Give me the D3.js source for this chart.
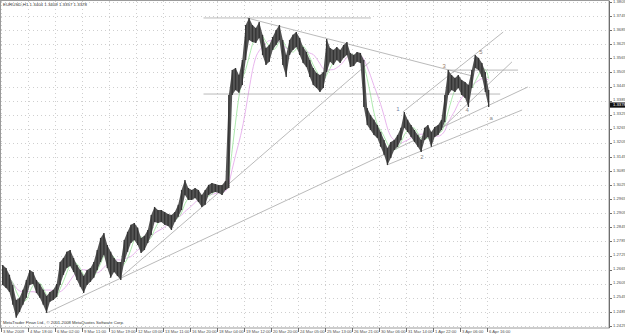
<!DOCTYPE html>
<html>
<head>
<meta charset="utf-8">
<script src="https://cdn.jsdelivr.net/npm/d3@7"></script>
<style>
  html, body { margin: 0; padding: 0; background: #fff; }
  text { font-family: "Liberation Sans", Arial, sans-serif; }
</style>
</head>
<body>
<svg id="canvas"></svg>
<script>
const width = 625;
const height = 335;

// 4-hour bars, EURUSD H1 chart
const highs = [
  1.2685, 1.2672, 1.2643, 1.2600, 1.2536, 1.2545, 1.2579, 1.2621, 1.2664, 1.2655,
  1.2621, 1.2604, 1.2579, 1.2553, 1.2570, 1.2579, 1.2604, 1.2698, 1.2715, 1.2741,
  1.2749, 1.2715, 1.2685, 1.2664, 1.2638, 1.2664, 1.2672, 1.2698, 1.2749, 1.2800,
  1.2821, 1.2770, 1.2741, 1.2715, 1.2698, 1.2698, 1.2791, 1.2826, 1.2856, 1.2864,
  1.2843, 1.2800, 1.2809, 1.2834, 1.2898, 1.2932, 1.2919, 1.2919, 1.2911, 1.2902,
  1.2898, 1.2911, 1.2941, 1.3004, 1.3047, 1.3013, 1.3004, 1.3013, 1.3004, 1.2983,
  1.3004, 1.3026, 1.3034, 1.3030, 1.3026, 1.3026, 1.3043, 1.3409, 1.3515, 1.3524,
  1.3494, 1.3558, 1.3707, 1.3737, 1.3707, 1.3694, 1.3720, 1.3665, 1.3609, 1.3622,
  1.3656, 1.3686, 1.3707, 1.3643, 1.3579, 1.3643, 1.3665, 1.3677, 1.3652, 1.3613,
  1.3592, 1.3558, 1.3524, 1.3503, 1.3494, 1.3507, 1.3647, 1.3609, 1.3601, 1.3613,
  1.3601, 1.3622, 1.3635, 1.3588, 1.3579, 1.3592, 1.3588, 1.3558, 1.3354, 1.3324,
  1.3303, 1.3281, 1.3251, 1.3217, 1.3183, 1.3209, 1.3217, 1.3239, 1.3269, 1.3337,
  1.3303, 1.3281, 1.3260, 1.3239, 1.3217, 1.3269, 1.3281, 1.3251, 1.3273, 1.3281,
  1.3303, 1.3409, 1.3515, 1.3494, 1.3481, 1.3494, 1.3473, 1.3464, 1.3452, 1.3515,
  1.3579, 1.3567, 1.3545, 1.3507, 1.3430
];
const lows = [
  1.2600, 1.2587, 1.2570, 1.2515, 1.2460, 1.2485, 1.2515, 1.2545, 1.2600, 1.2604,
  1.2566, 1.2545, 1.2515, 1.2481, 1.2528, 1.2536, 1.2549, 1.2600, 1.2643, 1.2672,
  1.2681, 1.2655, 1.2621, 1.2592, 1.2566, 1.2600, 1.2613, 1.2630, 1.2664, 1.2698,
  1.2728, 1.2672, 1.2630, 1.2655, 1.2638, 1.2621, 1.2698, 1.2741, 1.2779, 1.2791,
  1.2770, 1.2736, 1.2749, 1.2779, 1.2813, 1.2868, 1.2864, 1.2868, 1.2856, 1.2851,
  1.2834, 1.2868, 1.2890, 1.2919, 1.2983, 1.2962, 1.2962, 1.2970, 1.2953, 1.2932,
  1.2941, 1.2983, 1.2992, 1.2996, 1.2992, 1.2983, 1.3004, 1.3013, 1.3409, 1.3430,
  1.3418, 1.3452, 1.3558, 1.3643, 1.3635, 1.3630, 1.3652, 1.3579, 1.3537, 1.3550,
  1.3601, 1.3622, 1.3643, 1.3537, 1.3486, 1.3579, 1.3601, 1.3613, 1.3579, 1.3545,
  1.3528, 1.3486, 1.3452, 1.3439, 1.3422, 1.3439, 1.3507, 1.3550, 1.3537, 1.3558,
  1.3545, 1.3567, 1.3579, 1.3528, 1.3532, 1.3550, 1.3545, 1.3358, 1.3281, 1.3260,
  1.3239, 1.3226, 1.3188, 1.3154, 1.3111, 1.3141, 1.3175, 1.3188, 1.3217, 1.3269,
  1.3251, 1.3230, 1.3209, 1.3188, 1.3166, 1.3217, 1.3230, 1.3188, 1.3230, 1.3239,
  1.3260, 1.3294, 1.3409, 1.3430, 1.3422, 1.3439, 1.3409, 1.3396, 1.3358, 1.3439,
  1.3524, 1.3515, 1.3486, 1.3422, 1.3358
];

const priceTicks = [
  1.3805, 1.3745, 1.3685, 1.3625, 1.3565, 1.3505, 1.3445, 1.3385, 1.3325, 1.3265,
  1.3205, 1.3145, 1.3085, 1.3025, 1.2965, 1.2905, 1.2845, 1.2785, 1.2725, 1.2665,
  1.2605, 1.2545, 1.2485, 1.2425
];
const timeLabels = [
  "3 Mar 2009", "4 Mar 18:00", "6 Mar 02:00", "9 Mar 11:00", "10 Mar 19:00",
  "12 Mar 03:00", "13 Mar 11:00", "16 Mar 20:00", "18 Mar 04:00", "19 Mar 12:00",
  "20 Mar 20:00", "24 Mar 05:00", "25 Mar 13:00", "26 Mar 21:00", "30 Mar 06:00",
  "31 Mar 14:00", "1 Apr 22:00", "3 Apr 06:00", "6 Apr 16:00"
];
const barsPerLabel = 8;
const lastPrice = 1.3378;

// drawn objects: [bar, price] pairs
const trendLines = [
  [[60, 1.3737], [109.6, 1.3737]],
  [[60, 1.3413], [147.9, 1.3413]],
  [[132.4, 1.3515], [153.2, 1.3515]],
  [[72.9, 1.3737], [139.6, 1.3490]],
  [[13.6, 1.2481], [156.1, 1.3443]],
  [[35.3, 1.2630], [109.3, 1.3550]],
  [[114.4, 1.3111], [154.4, 1.3345]],
  [[119.1, 1.3337], [148.8, 1.3677]],
  [[130.1, 1.3260], [151.4, 1.3550]]
];
const waveLabels = [
  { bar: 117.6, price: 1.3349, text: "1", color: "#6f80a6" },
  { bar: 124.7, price: 1.3145, text: "2", color: "#8a8a8a" },
  { bar: 131.3, price: 1.3532, text: "3", color: "#a0806a" },
  { bar: 138.1, price: 1.3345, text: "4", color: "#8a8a8a" },
  { bar: 142.2, price: 1.3592, text: "5", color: "#907a70" },
  { bar: 145.2, price: 1.3307, text: "a", color: "#8a8a8a" }
];

const plotLeft = 1;
const plotRight = 609;
const plotTop = 1;
const plotBottom = 328;

const svg = d3.select("#canvas").attr("width", width).attr("height", height);

const xScale = d3
  .scaleLinear()
  .domain([0, barsPerLabel])
  .range([plotLeft, plotLeft + 27]);

const yScale = d3.scaleLinear().domain([1.2425, 1.3805]).range([326, 2]);

// grid
svg
  .append("g")
  .selectAll("line")
  .data(priceTicks)
  .enter()
  .append("line")
  .attr("x1", plotLeft)
  .attr("x2", plotRight)
  .attr("y1", (d) => Math.round(yScale(d)) + 0.5)
  .attr("y2", (d) => Math.round(yScale(d)) + 0.5)
  .attr("stroke", "#cfcfcf")
  .attr("stroke-dasharray", "1,3");

svg
  .append("g")
  .selectAll("line")
  .data(timeLabels)
  .enter()
  .append("line")
  .attr("x1", (d, i) => Math.round(xScale(i * barsPerLabel)) + 0.5)
  .attr("x2", (d, i) => Math.round(xScale(i * barsPerLabel)) + 0.5)
  .attr("y1", plotTop)
  .attr("y2", plotBottom)
  .attr("stroke", "#cfcfcf")
  .attr("stroke-dasharray", "1,3");

// frame
svg
  .append("rect")
  .attr("x", plotLeft - 0.5)
  .attr("y", plotTop - 0.5)
  .attr("width", plotRight - plotLeft + 0.5)
  .attr("height", plotBottom - plotTop + 0.5)
  .attr("fill", "none")
  .attr("stroke", "#9a9a9a");

svg
  .append("line")
  .attr("x1", plotRight + 0.5)
  .attr("x2", plotRight + 0.5)
  .attr("y1", plotTop)
  .attr("y2", plotBottom)
  .attr("stroke", "#6e6e6e");

const bars = highs.map((h, i) => ({ i, high: h, low: lows[i], mid: (h + lows[i]) / 2 }));

// moving averages of the bar midpoints
const movingAverage = (n) =>
  bars.map((b, i) => ({
    i,
    value: d3.mean(bars.slice(Math.max(0, i - n + 1), i + 1), (d) => d.mid)
  }));

const maLine = d3
  .line()
  .curve(d3.curveMonotoneX)
  .x((d) => xScale(d.i + 0.5))
  .y((d) => yScale(d.value));

svg
  .append("path")
  .datum(movingAverage(8))
  .attr("d", maLine)
  .attr("fill", "none")
  .attr("stroke", "#e2a2e8")
  .attr("stroke-width", 0.8);

svg
  .append("path")
  .datum(movingAverage(4))
  .attr("d", maLine)
  .attr("fill", "none")
  .attr("stroke", "#98e398")
  .attr("stroke-width", 0.8);

// trend lines
svg
  .append("g")
  .selectAll("line")
  .data(trendLines)
  .enter()
  .append("line")
  .attr("x1", (d) => xScale(d[0][0]))
  .attr("y1", (d) => yScale(d[0][1]))
  .attr("x2", (d) => xScale(d[1][0]))
  .attr("y2", (d) => yScale(d[1][1]))
  .attr("stroke", "#a8a8a8")
  .attr("stroke-width", 0.8);

// price bars
svg
  .append("path")
  .datum(bars)
  .attr(
    "d",
    d3
      .area()
      .x((d) => xScale(d.i + 0.5))
      .y0((d) => yScale(d.low))
      .y1((d) => yScale(d.high))
  )
  .attr("fill", "#555");

svg
  .append("g")
  .selectAll("line")
  .data(bars)
  .enter()
  .append("line")
  .attr("x1", (d) => xScale(d.i + 0.5))
  .attr("x2", (d) => xScale(d.i + 0.5))
  .attr("y1", (d) => yScale(d.high))
  .attr("y2", (d) => yScale(d.low))
  .attr("stroke", "#333")
  .attr("stroke-width", 1.3);

// wave labels
svg
  .append("g")
  .selectAll("text")
  .data(waveLabels)
  .enter()
  .append("text")
  .attr("x", (d) => xScale(d.bar))
  .attr("y", (d) => yScale(d.price))
  .attr("dominant-baseline", "middle")
  .attr("text-anchor", "middle")
  .attr("fill", (d) => d.color)
  .style("font-size", "6px")
  .text((d) => d.text);

// right price axis
const yAxis = svg.append("g");
yAxis
  .selectAll("line")
  .data(priceTicks)
  .enter()
  .append("line")
  .attr("x1", plotRight)
  .attr("x2", plotRight + 3)
  .attr("y1", (d) => Math.round(yScale(d)) + 0.5)
  .attr("y2", (d) => Math.round(yScale(d)) + 0.5)
  .attr("stroke", "#6e6e6e");
yAxis
  .selectAll("text")
  .data(priceTicks)
  .enter()
  .append("text")
  .attr("x", plotRight + 4)
  .attr("y", (d) => yScale(d) - 0.5)
  .attr("dominant-baseline", "middle")
  .attr("fill", "#505050")
  .style("font-size", "4.2px")
  .text((d) => d.toFixed(4));

// current price box
const lastY = yScale(lastPrice) + 2.8;
svg
  .append("rect")
  .attr("x", plotRight + 1)
  .attr("y", lastY - 2.6)
  .attr("width", width - plotRight - 1)
  .attr("height", 5.2)
  .attr("fill", "#111");
svg
  .append("text")
  .attr("x", plotRight + 4)
  .attr("y", lastY)
  .attr("dominant-baseline", "middle")
  .attr("fill", "#fff")
  .style("font-size", "4.2px")
  .text(lastPrice.toFixed(4));

// bottom time axis
const xAxis = svg.append("g");
xAxis
  .selectAll("line")
  .data(timeLabels)
  .enter()
  .append("line")
  .attr("x1", (d, i) => Math.round(xScale(i * barsPerLabel)) + 0.5)
  .attr("x2", (d, i) => Math.round(xScale(i * barsPerLabel)) + 0.5)
  .attr("y1", plotBottom)
  .attr("y2", plotBottom + 4)
  .attr("stroke", "#6e6e6e");
xAxis
  .selectAll("text")
  .data(timeLabels)
  .enter()
  .append("text")
  .attr("x", (d, i) => xScale(i * barsPerLabel) + 2)
  .attr("y", plotBottom + 4)
  .attr("dominant-baseline", "middle")
  .attr("fill", "#505050")
  .style("font-size", "4.2px")
  .text((d) => d);

// captions
svg
  .append("text")
  .attr("x", 3)
  .attr("y", 5)
  .attr("dominant-baseline", "middle")
  .attr("fill", "#333")
  .style("font-size", "4.4px")
  .text("EURUSD,H1  1.3404 1.3409 1.3357 1.3378");

svg
  .append("text")
  .attr("x", 3)
  .attr("y", 323)
  .attr("dominant-baseline", "middle")
  .attr("fill", "#333")
  .style("font-size", "4.2px")
  .text("MetaTrader Finan Ltd., © 2001-2008 MetaQuotes Software Corp.");
</script>
</body>
</html>
